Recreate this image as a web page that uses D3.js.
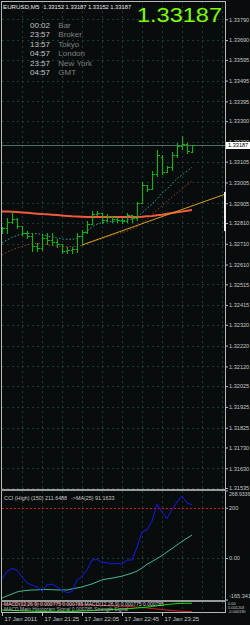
<!DOCTYPE html>
<html>
<head>
<meta charset="utf-8">
<script src="https://cdn.jsdelivr.net/npm/d3@7"></script>
<style>
  body { margin: 0; background: #080c0c; }
  svg { display: block; font-family: 'Liberation Sans', Arial, sans-serif; }
</style>
</head>
<body>
<div id="chart-area"></div>
<script>
const width = 250;
const height = 625;
const chartLeft = 2;
const chartRight = 225;

// EURUSD M5 bars, 20:45 .. 23:55
const opens = [1.32767, 1.32786, 1.32815, 1.32829, 1.32795, 1.32762, 1.32747, 1.32699, 1.32690, 1.32738, 1.32728, 1.32718, 1.32709, 1.32675, 1.32680, 1.32685, 1.32747, 1.32767, 1.32805, 1.32853, 1.32858, 1.32824, 1.32844, 1.32829, 1.32824, 1.32820, 1.32848, 1.32834, 1.32906, 1.32993, 1.32973, 1.33046, 1.33127, 1.33055, 1.33079, 1.33137, 1.33180, 1.33190, 1.33152];
const highs = [1.32791, 1.32834, 1.32858, 1.32834, 1.32795, 1.32771, 1.32762, 1.32714, 1.32752, 1.32762, 1.32762, 1.32733, 1.32709, 1.32694, 1.32694, 1.32762, 1.32776, 1.32820, 1.32868, 1.32868, 1.32858, 1.32853, 1.32844, 1.32839, 1.32834, 1.32858, 1.32848, 1.32911, 1.33007, 1.32993, 1.33060, 1.33161, 1.33137, 1.33084, 1.33151, 1.33195, 1.33228, 1.33195, 1.33187];
const lows = [1.32762, 1.32762, 1.32810, 1.32786, 1.32752, 1.32738, 1.32675, 1.32675, 1.32680, 1.32709, 1.32704, 1.32694, 1.32666, 1.32666, 1.32666, 1.32670, 1.32704, 1.32762, 1.32805, 1.32848, 1.32810, 1.32820, 1.32815, 1.32815, 1.32810, 1.32815, 1.32815, 1.32824, 1.32906, 1.32964, 1.32973, 1.33036, 1.33046, 1.33055, 1.33065, 1.33127, 1.33166, 1.33147, 1.33152];
const closes = [1.32786, 1.32815, 1.32829, 1.32795, 1.32762, 1.32747, 1.32699, 1.32690, 1.32738, 1.32728, 1.32718, 1.32709, 1.32675, 1.32680, 1.32685, 1.32747, 1.32767, 1.32805, 1.32853, 1.32858, 1.32824, 1.32844, 1.32829, 1.32824, 1.32820, 1.32848, 1.32834, 1.32906, 1.32993, 1.32973, 1.33046, 1.33137, 1.33055, 1.33079, 1.33137, 1.33180, 1.33190, 1.33156, 1.33187];

// moving averages on price
const maFast = [1.32714, 1.32728, 1.32740, 1.32750, 1.32757, 1.32760, 1.32760, 1.32759, 1.32755, 1.32747, 1.32743, 1.32738, 1.32733, 1.32732, 1.32732, 1.32735, 1.32752, 1.32771, 1.32791, 1.32805, 1.32811, 1.32815, 1.32817, 1.32820, 1.32820, 1.32824, 1.32829, 1.32839, 1.32858, 1.32880, 1.32901, 1.32925, 1.32954, 1.32973, 1.32997, 1.33024, 1.33041, 1.33060, 1.33078];
const maSlow = [1.32656, 1.32670, 1.32680, 1.32690, 1.32696, 1.32704, 1.32709, 1.32712, 1.32711, 1.32706, 1.32702, 1.32699, 1.32697, 1.32696, 1.32696, 1.32697, 1.32702, 1.32709, 1.32718, 1.32728, 1.32735, 1.32743, 1.32750, 1.32757, 1.32764, 1.32771, 1.32781, 1.32793, 1.32808, 1.32829, 1.32853, 1.32872, 1.32894, 1.32916, 1.32935, 1.32954, 1.32973, 1.32993, 1.33012];
const maLong = [1.32865, 1.32865, 1.32864, 1.32863, 1.32861, 1.32859, 1.32857, 1.32855, 1.32853, 1.32852, 1.32850, 1.32848, 1.32846, 1.32844, 1.32842, 1.32841, 1.32840, 1.32839, 1.32839, 1.32839, 1.32839, 1.32839, 1.32839, 1.32839, 1.32839, 1.32839, 1.32839, 1.32839, 1.32840, 1.32842, 1.32844, 1.32847, 1.32850, 1.32854, 1.32858, 1.32862, 1.32865, 1.32869, 1.32872];

// trend line anchors (bar index, price)
const trendBars = [16, 38];
const trendPrices = [1.32704, 1.32892];
const rangeMarker = [1.32959, 1.32771];
const lastPrice = 1.33187;

// CCI (High) 150 and its MA(25)
const cciValues = [-83.5, -53.7, -41.7, -47.7, -75.5, -99.4, -107.4, -115.3, -131.2, -107.4, -103.4, -115.3, -127.2, -138.0, -133.2, -87.5, -73.6, -47.7, -8.0, -6.0, -17.1, -18.7, -23.9, -21.1, -23.9, -8.0, -8.0, 43.7, 103.4, 111.3, 147.1, 214.7, 182.9, 157.0, 192.8, 222.7, 246.5, 218.7, 211.6488];
const cciMa = [-159, -151, -143, -135, -131, -129, -127, -127, -125, -125, -126, -127, -127, -127, -123, -119, -115, -109, -103, -95, -87, -83, -80, -76, -72, -66, -60, -52, -40, -25, -14, -2, 10, 24, 38, 52, 66, 79, 91.1633];
const cciLevel = 200;

// MACD panel
const macdMain = [0.00006, 0.00004, 0.00001, -0.00001, -0.00004, -0.00006, -0.00009, -0.00011, -0.00013, -0.00014, -0.00015, -0.00015, -0.00015, -0.00015, -0.00013, -0.00010, -0.00006, -0.00004, 0.00000, 0.00004, 0.00006, 0.00009, 0.00013, 0.00015, 0.00019, 0.00023, 0.00026, 0.00032, 0.00037, 0.00043, 0.00051, 0.00059, 0.00068, 0.00076, 0.00082, 0.00087, 0.00091, 0.00091, 0.00091];
const macdSignal = [0.00078, 0.00080, 0.00081, 0.00082, 0.00082, 0.00082, 0.00082, 0.00082, 0.00081, 0.00081, 0.00081, 0.00082, 0.00082, 0.00082, 0.00080, 0.00077, 0.00075, 0.00072, 0.00069, 0.00067, 0.00064, 0.00062, 0.00059, 0.00057, 0.00054, 0.00052, 0.00048, 0.00043, 0.00038, 0.00032, 0.00025, 0.00019, 0.00013, 0.00006, 0.00000, -0.00006, -0.00010, -0.00013, -0.00015];
const macdTickText = ['0.00', '0.001203', '-0.000190'];

// axis labels
const priceTicks = [1.33790, 1.33690, 1.33595, 1.33495, 1.33395, 1.33300, 1.33200, 1.33105, 1.33005, 1.32905, 1.32810, 1.32710, 1.32610, 1.32515, 1.32415, 1.32320, 1.32220, 1.32120, 1.32025, 1.31925, 1.31825, 1.31730, 1.31630, 1.31535];
const cciTicks = [268.9336, 200, 0, -165.341];
const cciTickText = ['268.9336', '200', '0.00', '-165.341'];
const timeBars = [0, 8, 16, 24, 32];
const timeTexts = ['17 Jan 2011', '17 Jan 21:25', '17 Jan 22:05', '17 Jan 22:45', '17 Jan 23:25'];
const ohlcText = ['1.33152', '1.33187', '1.33152', '1.33187'];
const clockTimes = ['00:02', '23:57', '13:57', '04:57', '23:57', '04:57'];
const clockNames = ['Bar', 'Broker', 'Tokyo', 'London', 'New York', 'GMT'];

const svg = d3.select('#chart-area')
  .append('svg')
  .attr('width', width)
  .attr('height', height);

svg.append('rect')
  .attr('width', width)
  .attr('height', height)
  .attr('fill', '#080c0c');

// Scales
const x = d3.scaleLinear().domain([0, 38]).range([2, 192]);
const y = d3.scaleLinear().domain([1.31535, 1.33790]).range([488, 19.3]);
const yCci = d3.scaleLinear().domain([-165.341, 268.9336]).range([599.6, 490.4]);
const yMacd = d3.scaleLinear().domain([-0.00019, 0.0012]).range([612, 601]);

const defs = svg.append('defs');
[['clip-main', 1, 489], ['clip-cci', 491, 599.6], ['clip-macd', 601.5, 612.5]].forEach(c => {
  defs.append('clipPath').attr('id', c[0])
    .append('rect')
    .attr('x', chartLeft).attr('y', c[1])
    .attr('width', chartRight - chartLeft).attr('height', c[2] - c[1]);
});

const gridColor = '#1d3a33';
const gridBars = d3.range(4, 45, 4);

// Grid
const grid = svg.append('g')
  .attr('stroke', gridColor)
  .attr('stroke-dasharray', '2,3')
  .attr('shape-rendering', 'crispEdges');

grid.selectAll('.hgrid')
  .data(priceTicks)
  .enter().append('line')
  .attr('x1', chartLeft).attr('x2', chartRight)
  .attr('y1', d => Math.round(y(d)) + 0.5)
  .attr('y2', d => Math.round(y(d)) + 0.5);

grid.append('line')
  .attr('x1', chartLeft).attr('x2', chartRight)
  .attr('y1', Math.round(yCci(0)) + 0.5)
  .attr('y2', Math.round(yCci(0)) + 0.5);

[[1, 489], [491, 599.6], [601.5, 612.5]].forEach(p => {
  grid.selectAll(null)
    .data(gridBars)
    .enter().append('line')
    .attr('x1', d => Math.round(x(d)) + 0.5)
    .attr('x2', d => Math.round(x(d)) + 0.5)
    .attr('y1', p[0]).attr('y2', p[1]);
});

const main = svg.append('g').attr('clip-path', 'url(#clip-main)');

// bid line
main.append('line')
  .attr('x1', chartLeft).attr('x2', chartRight)
  .attr('y1', Math.round(y(lastPrice)) + 0.5)
  .attr('y2', Math.round(y(lastPrice)) + 0.5)
  .attr('stroke', '#4e6e64')
  .attr('shape-rendering', 'crispEdges');

const priceLine = data => d3.line()
  .x((d, i) => x(i))
  .y(d => y(d))(data);

main.append('path')
  .attr('d', priceLine(maLong))
  .attr('fill', 'none')
  .attr('stroke', '#f05a3e')
  .attr('stroke-width', 2);

main.append('path')
  .attr('d', priceLine(maSlow))
  .attr('fill', 'none')
  .attr('stroke', '#a8382a')
  .attr('stroke-dasharray', '1.5,2');

main.append('path')
  .attr('d', priceLine(maFast))
  .attr('fill', 'none')
  .attr('stroke', '#22a8a8')
  .attr('stroke-dasharray', '1.5,2');

// trend line, extended to the right edge
const slope = (trendPrices[1] - trendPrices[0]) / (trendBars[1] - trendBars[0]);
const endBar = x.invert(chartRight);
main.append('line')
  .attr('x1', x(trendBars[0])).attr('y1', y(trendPrices[0]))
  .attr('x2', x(endBar)).attr('y2', y(trendPrices[0] + slope * (endBar - trendBars[0])))
  .attr('stroke', '#d8a020');

// OHLC bars
main.selectAll('.bar')
  .data(d3.range(opens.length))
  .enter().append('path')
  .attr('class', 'bar')
  .attr('d', i => {
    const bx = Math.round(x(i)) + 0.5;
    const yo = Math.round(y(opens[i])) + 0.5;
    const yc = Math.round(y(closes[i])) + 0.5;
    return `M${bx},${Math.round(y(highs[i]))}V${Math.round(y(lows[i])) + 1}` +
      `M${bx - 2},${yo}H${bx}M${bx},${yc}H${bx + 2}`;
  })
  .attr('fill', 'none')
  .attr('stroke', '#00c000')
  .attr('shape-rendering', 'crispEdges');

// CCI panel
const cci = svg.append('g').attr('clip-path', 'url(#clip-cci)');

cci.append('line')
  .attr('x1', chartLeft).attr('x2', chartRight)
  .attr('y1', Math.round(yCci(cciLevel)) + 0.5)
  .attr('y2', Math.round(yCci(cciLevel)) + 0.5)
  .attr('stroke', '#e01010')
  .attr('stroke-dasharray', '2,2');

const cciLine = d3.line().x((d, i) => x(i)).y(d => yCci(d));

cci.append('path')
  .attr('d', cciLine(cciMa))
  .attr('fill', 'none')
  .attr('stroke', '#46b890');

cci.append('path')
  .attr('d', cciLine(cciValues))
  .attr('fill', 'none')
  .attr('stroke', '#1818f0');

svg.append('text')
  .attr('x', 4).attr('y', 499.5)
  .attr('font-size', '5.4px')
  .attr('fill', '#c8c8c8')
  .text('CCI (High) (150) 211.6488');

svg.append('text')
  .attr('x', 71).attr('y', 499.5)
  .attr('font-size', '5.4px')
  .attr('fill', '#c8c8c8')
  .text('->MA(25) 91.1633');

// MACD panel
const macd = svg.append('g').attr('clip-path', 'url(#clip-macd)');
const macdLine = d3.line().x((d, i) => x(i)).y(d => yMacd(d));

macd.append('path')
  .attr('d', macdLine(macdSignal))
  .attr('fill', 'none')
  .attr('stroke', '#d02020');

macd.append('path')
  .attr('d', macdLine(macdMain))
  .attr('fill', 'none')
  .attr('stroke', '#10e010');

macd.append('text')
  .attr('x', 4).attr('y', 606)
  .attr('font-size', '5px')
  .attr('fill', '#d0d0d0')
  .text('MACD(12,26,9) 0.000775 0.000785  MACD(12,26,9) 0.000775 0.000785');

macd.append('text')
  .attr('x', 4).attr('y', 610.5)
  .attr('font-size', '5px')
  .attr('fill', '#b0b0b0')
  .text('MACD Main Histogram  Signal 0.000785  Strength Signal');

// Panel borders
const border = svg.append('g')
  .attr('stroke', '#b8b8b8')
  .attr('shape-rendering', 'crispEdges');

border.append('line').attr('x1', chartLeft).attr('x2', chartRight).attr('y1', 1.5).attr('y2', 1.5);
border.append('line').attr('x1', chartLeft - 0.5).attr('x2', chartLeft - 0.5).attr('y1', 1).attr('y2', 613);
border.append('line').attr('x1', chartRight + 0.5).attr('x2', chartRight + 0.5).attr('y1', 1).attr('y2', 613);
border.append('rect').attr('x', chartLeft - 1).attr('y', 489).attr('width', chartRight - chartLeft + 2).attr('height', 2).attr('fill', '#9a9a9a').attr('stroke', 'none');
border.append('rect').attr('x', chartLeft - 1).attr('y', 599.6).attr('width', chartRight - chartLeft + 2).attr('height', 2).attr('fill', '#9a9a9a').attr('stroke', 'none');
border.append('line').attr('x1', chartLeft).attr('x2', chartRight).attr('y1', 612.5).attr('y2', 612.5);

// Price axis
const yAxis = svg.append('g')
  .attr('transform', `translate(${chartRight + 1}, 0)`)
  .call(d3.axisRight(y).tickValues(priceTicks).tickFormat(d3.format('.5f')).tickSize(2).tickPadding(1));

const cciAxis = svg.append('g')
  .attr('transform', `translate(${chartRight + 1}, 0)`)
  .call(d3.axisRight(yCci).tickValues(cciTicks).tickFormat((d, i) => cciTickText[i]).tickSize(2).tickPadding(1));

[yAxis, cciAxis].forEach(a => {
  a.select('.domain').remove();
  a.attr('font-family', null).attr('font-size', null);
  a.selectAll('line').attr('stroke', '#b8b8b8');
  a.selectAll('text')
    .attr('font-size', '5.6px')
    .attr('fill', '#c8c8c8');
});
cciAxis.selectAll('text')
  .attr('font-size', (d, i) => i === 0 ? '5.1px' : '5.6px')
  .attr('dy', (d, i) => i === 0 ? '1em' : (i === 3 ? '-0.45em' : '0.32em'));

// MACD scale labels, stacked tightly as in the terminal
svg.append('g')
  .selectAll('text')
  .data(macdTickText)
  .enter().append('text')
  .attr('x', chartRight + 3)
  .attr('y', (d, i) => 605.2 + i * 3.7)
  .attr('font-size', '3.9px')
  .attr('fill', '#c8c8c8')
  .text(d => d);

// current price box
svg.append('rect')
  .attr('x', chartRight + 1).attr('y', Math.round(y(lastPrice)) - 3)
  .attr('width', width - chartRight - 1).attr('height', 7)
  .attr('fill', '#ffffff');

svg.append('text')
  .attr('x', chartRight + 3).attr('y', y(lastPrice))
  .attr('dy', '0.35em')
  .attr('font-size', '5.6px')
  .attr('fill', '#000000')
  .text(d3.format('.5f')(lastPrice));

// range marker on the right edge
svg.append('rect')
  .attr('x', chartRight - 1).attr('y', y(rangeMarker[0]))
  .attr('width', 2).attr('height', y(rangeMarker[1]) - y(rangeMarker[0]))
  .attr('fill', '#f0f0f0');

// Time axis
const xAxis = svg.append('g')
  .attr('transform', 'translate(0, 613)')
  .call(d3.axisBottom(x).tickValues(timeBars).tickFormat((d, i) => timeTexts[i]).tickSize(3).tickPadding(1));

xAxis.select('.domain').remove();
xAxis.attr('font-family', null).attr('font-size', null);
xAxis.selectAll('line').attr('stroke', '#b8b8b8');
xAxis.selectAll('text')
  .attr('text-anchor', 'start')
  .attr('x', 2)
  .attr('y', 3)
  .attr('dy', '0.8em')
  .attr('font-size', '6px')
  .attr('fill', '#c8c8c8');

// Header
svg.append('text')
  .attr('x', 3).attr('y', 9)
  .attr('font-size', '6.2px')
  .attr('fill', '#e8e8e8')
  .text('EURUSD,M5');

svg.selectAll('.ohlc')
  .data(ohlcText)
  .enter().append('text')
  .attr('x', (d, i) => 43.3 + i * 22.3)
  .attr('y', 9)
  .attr('font-size', '5.8px')
  .attr('fill', '#e8e8e8')
  .text(d => d);

svg.append('text')
  .attr('x', 137).attr('y', 21.7)
  .attr('font-size', '20px')
  .attr('textLength', 85)
  .attr('lengthAdjust', 'spacingAndGlyphs')
  .attr('fill', '#7cfc00')
  .text(d3.format('.5f')(lastPrice));

// Clock
svg.selectAll('.clock-time')
  .data(clockTimes)
  .enter().append('text')
  .attr('x', 30)
  .attr('y', (d, i) => 28 + i * 9.47)
  .attr('font-size', '8px')
  .attr('fill', '#c4c4c4')
  .text(d => d);

svg.selectAll('.clock-name')
  .data(clockNames)
  .enter().append('text')
  .attr('x', 58.3)
  .attr('y', (d, i) => 28 + i * 9.47)
  .attr('font-size', '8px')
  .attr('fill', '#808080')
  .text(d => d);
</script>
</body>
</html>
